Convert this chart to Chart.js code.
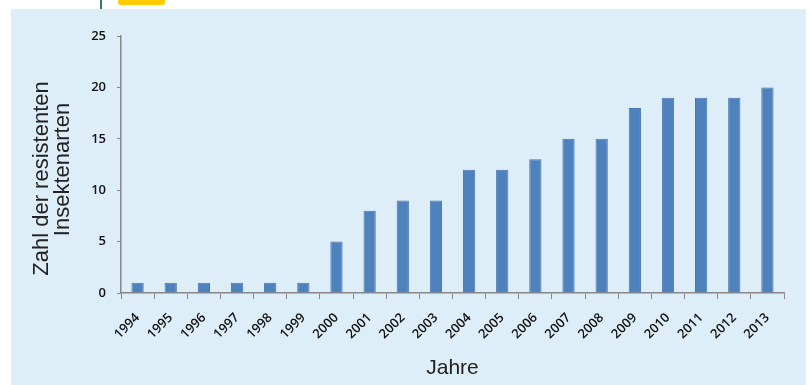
<!DOCTYPE html>
<html>
  <head>
    <title>Resistente Insektenarten</title>
    <style>
      body { margin: 0; background: #fff; }
      #panel { position: absolute; left: 11px; top: 9px; width: 795px; height: 376px; background: #deeef9; }
      #mark { position: absolute; left: 118px; top: -4px; width: 47px; height: 9px; background: #ffcc00; border-radius: 3px; }
      #rule { position: absolute; left: 100px; top: 0; width: 2px; height: 10px; background: #2e7d5b; }
    </style>
  </head>
  <body>
    <div id="rule"></div>
    <div id="mark"></div>
    <div id="panel">
      <canvas id="canvas" width="795" height="376"></canvas>
    </div>
    <script src="https://cdn.jsdelivr.net/npm/chart.js@4"></script>
    <script>
      const years = ["1994", "1995", "1996", "1997", "1998", "1999", "2000", "2001", "2002", "2003",
        "2004", "2005", "2006", "2007", "2008", "2009", "2010", "2011", "2012", "2013"];
      const species = [1, 1, 1, 1, 1, 1, 5, 8, 9, 9, 12, 12, 13, 15, 15, 18, 19, 19, 19, 20];
      const yTitle = ["Zahl der resistenten", "Insektenarten"];
      const xTitle = "Jahre";

      const axisColor = "#888888";

      // y title drawn by hand, the original sits a bit below the plot middle
      const yTitlePlugin = {
        id: "yTitle",
        afterDraw(chart) {
          const ctx = chart.ctx;
          const mid = (chart.chartArea.top + chart.chartArea.bottom) / 2;
          ctx.save();
          ctx.fillStyle = "#222";
          ctx.font = "22px 'Liberation Sans'";
          ctx.textAlign = "center";
          ctx.textBaseline = "middle";
          [[31, mid + 14], [52, mid + 5]].forEach(([x, y], i) => {
            ctx.save();
            ctx.translate(x, y);
            ctx.rotate(-Math.PI / 2);
            ctx.fillText(yTitle[i], 0, 0);
            ctx.restore();
          });
          ctx.restore();
        }
      };

      new Chart(document.getElementById("canvas").getContext("2d"), {
        type: "bar",
        data: {
          labels: years,
          datasets: [{
            data: species,
            backgroundColor: "#4f81bd",
            borderColor: "#4677b2",
            borderWidth: 1,
            barPercentage: 0.37,
            categoryPercentage: 1
          }]
        },
        options: {
          responsive: false,
          animation: false,
          layout: { padding: { left: 20, right: 22, top: 27, bottom: 0 } },
          plugins: { legend: { display: false }, tooltip: { enabled: false } },
          scales: {
            x: {
              offset: true,
              grid: { offset: true, drawOnChartArea: false, color: axisColor, tickLength: 6 },
              border: { color: axisColor, width: 1.5 },
              ticks: {
                minRotation: 45, maxRotation: 45, color: "#111",
                font: { family: "Open Sans", size: 13, weight: "600" }, padding: 11
              },
              title: {
                display: true, text: xTitle, color: "#222",
                font: { family: "Liberation Sans", size: 21 }, padding: { top: 4 }
              },
              afterFit: (s) => { s.height = 92; }
            },
            y: {
              min: 0, max: 25,
              ticks: {
                stepSize: 5, color: "#111",
                font: { family: "Open Sans", size: 13, weight: "600" }, padding: 11
              },
              grid: { drawOnChartArea: false, color: axisColor, tickLength: 4 },
              border: { color: axisColor, width: 1.5 },
              afterFit: (s) => { s.width = 90; }
            }
          }
        },
        plugins: [yTitlePlugin]
      });
    </script>
  </body>
</html>
